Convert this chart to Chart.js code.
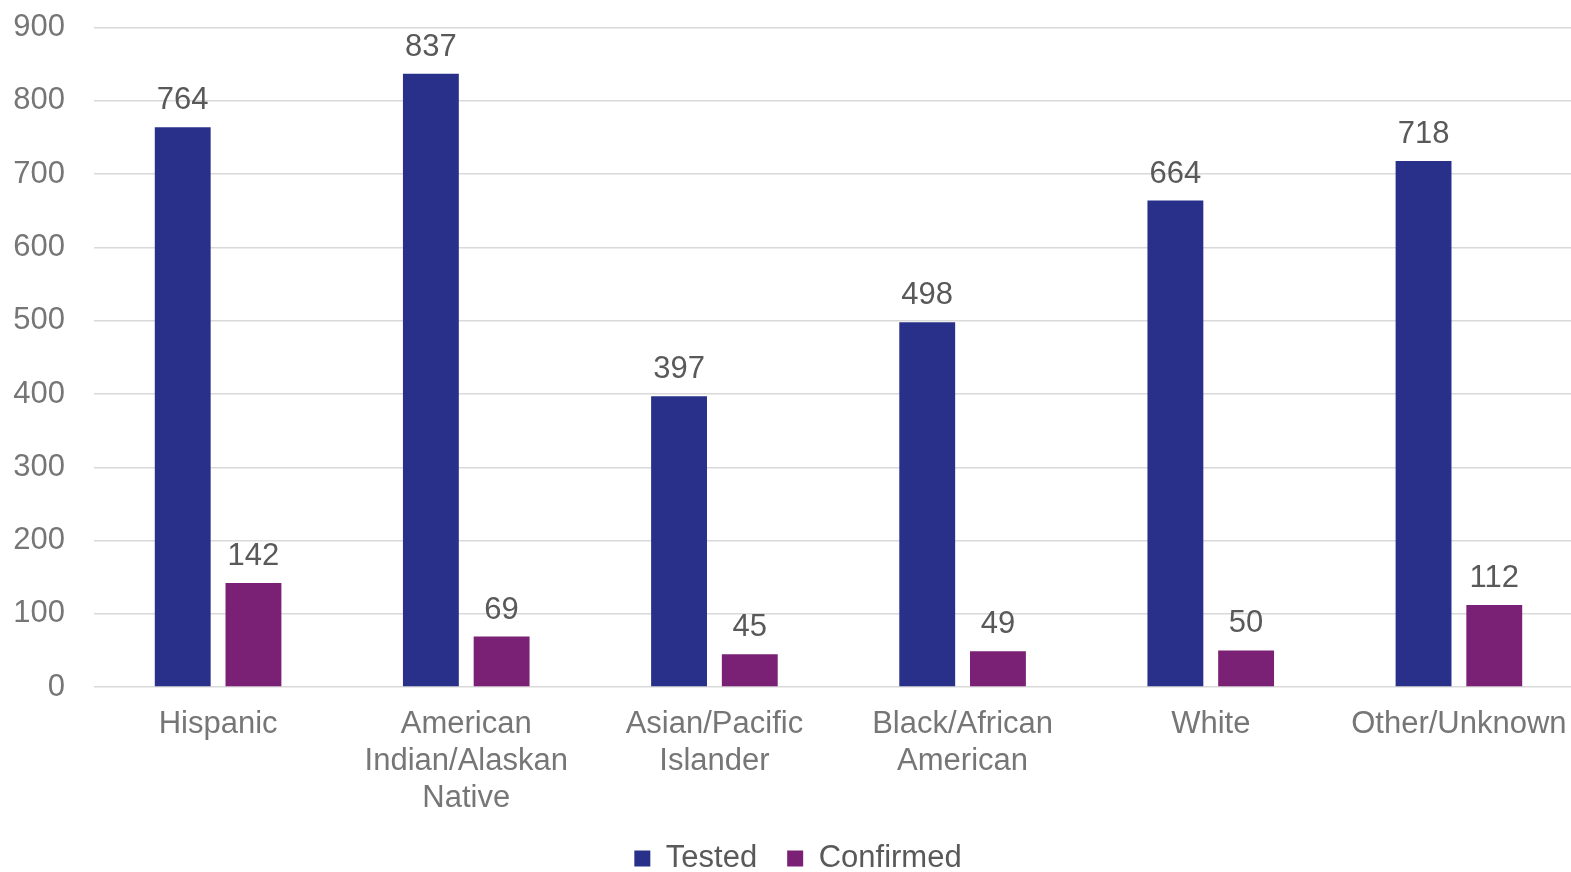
<!DOCTYPE html>
<html>
<head>
<meta charset="utf-8">
<script src="https://cdn.jsdelivr.net/npm/chart.js@4"></script>
<style>
html,body{margin:0;padding:0;background:#fff;overflow:hidden;}
canvas{display:block;}
</style>
</head>
<body>
<canvas id="c" width="1616" height="872"></canvas>
<script>
const categories = [
  "Hispanic",
  ["American", "Indian/Alaskan", "Native"],
  ["Asian/Pacific", "Islander"],
  ["Black/African", "American"],
  "White",
  "Other/Unknown"
];
const testedValues = [764, 837, 397, 498, 664, 718];
const confirmedValues = [142, 69, 45, 49, 50, 112];
const yTicks = [0, 100, 200, 300, 400, 500, 600, 700, 800, 900];

const FONT = "'Liberation Sans', Arial, sans-serif";

const dataLabels = {
  id: 'dataLabels',
  afterDatasetsDraw(chart) {
    const ctx = chart.ctx;
    ctx.save();
    ctx.font = "31px " + FONT;
    ctx.fillStyle = "#595959";
    ctx.textAlign = "center";
    ctx.textBaseline = "alphabetic";
    chart.data.datasets.forEach((ds, i) => {
      const meta = chart.getDatasetMeta(i);
      meta.data.forEach((bar, j) => {
        ctx.fillText(String(ds.data[j]), bar.x, bar.y - 18);
      });
    });
    ctx.restore();
  }
};

new Chart(document.getElementById('c'), {
  type: 'bar',
  data: {
    labels: categories,
    datasets: [
      { label: 'Tested', data: testedValues, backgroundColor: '#283089',
        categoryPercentage: 0.57, barPercentage: 0.79 },
      { label: 'Confirmed', data: confirmedValues, backgroundColor: '#7a2175',
        categoryPercentage: 0.57, barPercentage: 0.79 }
    ]
  },
  options: {
    responsive: false,
    animation: false,
    devicePixelRatio: 1,
    layout: { padding: { left: 13, right: 33, top: 27.6, bottom: -12 } },
    plugins: {
      tooltip: { enabled: false },
      legend: {
        position: 'bottom',
        labels: {
          font: { family: FONT, size: 31 },
          color: '#595959',
          boxWidth: 16,
          boxHeight: 16,
          padding: 30
        }
      }
    },
    scales: {
      x: {
        grid: { display: false, drawTicks: false },
        border: { display: false },
        afterFit(scale) {
          scale.height = 125.9;
          scale.paddingLeft = 0;
          scale.paddingRight = 0;
        },
        ticks: {
          font: { family: FONT, size: 31, lineHeight: 1.19 },
          color: '#767676',
          padding: 19,
          maxRotation: 0,
          autoSkip: false
        }
      },
      y: {
        min: 0,
        max: 900,
        afterBuildTicks(axis) { axis.ticks = yTicks.map(v => ({ value: v })); },
        afterFit(scale) {
          scale.width = 81;
          scale.paddingTop = 0;
          scale.paddingBottom = 0;
        },
        grid: { color: '#d9d9d9', lineWidth: 1.5, drawTicks: false },
        border: { display: false },
        ticks: {
          font: { family: FONT, size: 31 },
          color: '#767676',
          padding: 29
        }
      }
    }
  },
  plugins: [dataLabels]
});
</script>
</body>
</html>
